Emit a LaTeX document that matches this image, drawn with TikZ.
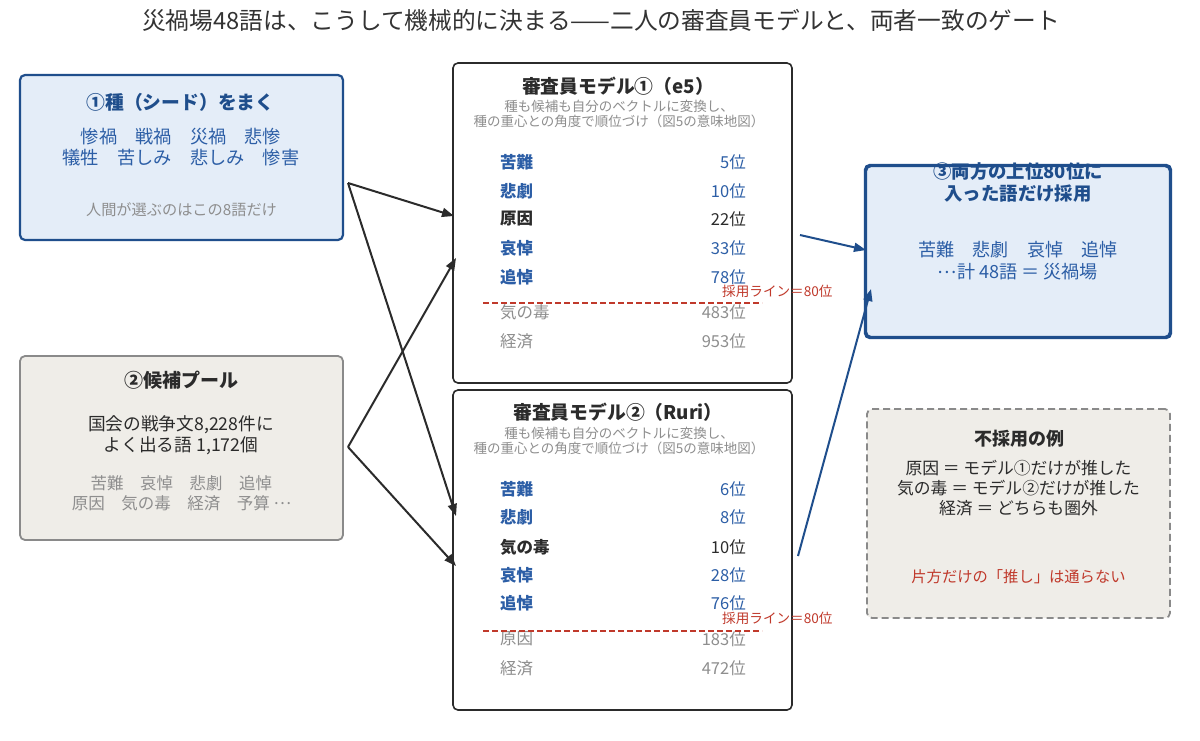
\documentclass[tikz,border=0pt]{standalone}
\usepackage{fontspec}
\setmainfont{Noto Sans CJK JP}
\usetikzlibrary{arrows.meta}
\definecolor{bblue}{HTML}{1F4E8C}
\definecolor{tblue}{HTML}{2C5EA6}
\definecolor{bfill}{HTML}{E4EDF8}
\definecolor{gfill}{HTML}{EFEDE8}
\definecolor{gborder}{HTML}{8A8A8A}
\definecolor{darkc}{HTML}{2B2B2B}
\definecolor{grayt}{HTML}{8E8E8E}
\definecolor{redc}{HTML}{C0392B}
\definecolor{titlec}{HTML}{333333}
\tikzset{
  seedbox/.style={draw=bblue, fill=bfill, line width=2.2pt, rounded corners=5pt, inner sep=0pt},
  poolbox/.style={draw=gborder, fill=gfill, line width=1.8pt, rounded corners=5pt, inner sep=0pt},
  modelbox/.style={draw=darkc, fill=white, line width=1.6pt, rounded corners=5pt, inner sep=0pt},
  rejbox/.style={draw=gborder, fill=gfill, line width=1.8pt, dash pattern=on 7pt off 4pt, rounded corners=5pt, inner sep=0pt},
  txt/.style={inner sep=0pt, align=center},
  arr/.style={draw=darkc, line width=2pt, -{Triangle[length=12pt,width=9pt]}},
  barr/.style={draw=bblue, line width=2pt, -{Triangle[length=12pt,width=9pt]}},
  cutline/.style={draw=redc, line width=1.2pt, dash pattern=on 6pt off 3pt},
}
\newcommand{\fs}[2]{\fontsize{#1}{#2}\selectfont}
\newcommand{\middots}{\raisebox{0.3em}{…}}
\begin{document}
\begin{tikzpicture}[x=1pt,y=-1pt]
\useasboundingbox (0,0) rectangle (1200,740);
\fill[white] (0,0) rectangle (1200,740);

% title
\node[txt, font=\fs{23.7}{27}, text=titlec] (title) at (601,20) {災禍場48語は、こうして機械的に決まる——二人の審査員モデルと、両者一致のゲート};

% boxes
\node[seedbox, minimum width=323pt, minimum height=165pt] (seed) at (181.5,157.5) {};
\node[poolbox, minimum width=323pt, minimum height=184pt] (pool) at (181.5,448) {};
\node[modelbox, minimum width=339pt, minimum height=320pt] (m1) at (622.5,223) {};
\node[modelbox, minimum width=339pt, minimum height=320pt] (m2) at (622.5,550) {};
\node[seedbox, minimum width=304pt, minimum height=171pt] (acc) at (1018,251.5) {};
\node[rejbox, minimum width=303pt, minimum height=209pt] (rej) at (1018.5,513.5) {};

% seed text
\node[txt, font=\fs{18.8}{22}\bfseries, text=bblue] (seedt) at (180.5,102) {①種（シード）をまく};
\node[txt, font=\fs{18.2}{21}, text=tblue] (seedw) at (181,147.5) {惨禍　戦禍　災禍　悲惨\\犠牲　苦しみ　悲しみ　惨害};
\node[txt, font=\fs{15.2}{18}, text=grayt] (seedn) at (181.5,210) {人間が選ぶのはこの8語だけ};

% pool text
\node[txt, font=\fs{19}{22}\bfseries, text=darkc] (poolt) at (181.5,380) {②候補プール};
\node[txt, font=\fs{17.7}{21}, text=darkc] (poold) at (181,435.5) {国会の戦争文8,228件に\\よく出る語 1,172個};
\node[txt, font=\fs{16.5}{20}, text=grayt] (poolw) at (181.5,493) {苦難　哀悼　悲劇　追悼\\原因　気の毒　経済　予算 \middots};

% model 1
\node[txt, font=\fs{18.8}{21}\bfseries, text=darkc] (m1t) at (618,86) {審査員モデル①（e5）};
\node[txt, font=\fs{13.5}{15}, text=grayt] (m1s) at (619,113.5) {種も候補も自分のベクトルに変換し、\\種の重心との角度で順位づけ（図5の意味地図）};
\foreach \i/\yy/\w/\n/\c/\f in {1/162/苦難/5位/tblue/\bfseries, 2/191/悲劇/10位/tblue/\bfseries, 3/219/原因/22位/darkc/\bfseries, 4/248/哀悼/33位/tblue/\bfseries, 5/277/追悼/78位/tblue/\bfseries, 6/312/気の毒/483位/grayt/, 7/341/経済/953位/grayt/}{
  \node[txt, anchor=west, font=\fs{16.5}{20}\f, text=\c] (m1w\i) at (500,\yy) {\w};
  \node[txt, anchor=east, font=\fs{16.5}{20}, text=\c] (m1n\i) at (746,\yy) {\n};
}
\coordinate (m1cl) at (483,303);
\coordinate (m1cr) at (762,303);
\draw[cutline] (m1cl) -- (m1cr);
\node[txt, anchor=west, font=\fs{13.6}{16}, text=redc] (m1lab) at (722,291) {採用ライン＝80位};

% model 2
\node[txt, font=\fs{18.8}{21}\bfseries, text=darkc] (m2t) at (618,412) {審査員モデル②（Ruri）};
\node[txt, font=\fs{13.5}{15}, text=grayt] (m2s) at (619,441) {種も候補も自分のベクトルに変換し、\\種の重心との角度で順位づけ（図5の意味地図）};
\foreach \i/\yy/\w/\n/\c/\f in {1/489/苦難/6位/tblue/\bfseries, 2/517/悲劇/8位/tblue/\bfseries, 3/547/気の毒/10位/darkc/\bfseries, 4/575/哀悼/28位/tblue/\bfseries, 5/603/追悼/76位/tblue/\bfseries, 6/639/原因/183位/grayt/, 7/668/経済/472位/grayt/}{
  \node[txt, anchor=west, font=\fs{16.5}{20}\f, text=\c] (m2w\i) at (500,\yy) {\w};
  \node[txt, anchor=east, font=\fs{16.5}{20}, text=\c] (m2n\i) at (746,\yy) {\n};
}
\coordinate (m2cl) at (483,631);
\coordinate (m2cr) at (762,631);
\draw[cutline] (m2cl) -- (m2cr);
\node[txt, anchor=west, font=\fs{13.6}{16}, text=redc] (m2lab) at (722,618) {採用ライン＝80位};

% accept text
\node[txt, font=\fs{18.4}{22}\bfseries, text=bblue] (acct) at (1018,182.5) {③両方の上位80位に\\入った語だけ採用};
\draw[bblue, line width=2.2pt, rounded corners=5pt] (acc.south west) rectangle (acc.north east);
\node[txt, font=\fs{18.1}{22}, text=tblue] (accw) at (1018,261) {苦難　悲劇　哀悼　追悼\\\middots 計 48語 ＝ 災禍場};

% reject text
\node[txt, font=\fs{18}{21}\bfseries, text=darkc] (rejt) at (1019,439) {不採用の例};
\node[txt, font=\fs{16.8}{20}, text=darkc] (rejd) at (1018.5,488) {原因 ＝ モデル①だけが推した\\気の毒 ＝ モデル②だけが推した\\経済 ＝ どちらも圏外};
\node[txt, font=\fs{15.3}{18}, text=redc] (rejn) at (1018.5,577) {片方だけの「推し」は通らない};

% connectors
\coordinate (seedout) at (348,183);
\coordinate (poolout) at (348,447);
\coordinate (m1inA) at (454,216);
\coordinate (m1inB) at (456,258);
\coordinate (m2inA) at (456,516);
\coordinate (m2inB) at (456,566);
\coordinate (m1out) at (800,235);
\coordinate (m2out) at (798,556);
\coordinate (accinA) at (866,250);
\coordinate (accinB) at (871,289);
\draw[arr] (seedout) -- (m1inA);
\draw[arr] (seedout) -- (m2inA);
\draw[arr] (poolout) -- (m1inB);
\draw[arr] (poolout) -- (m2inB);
\draw[barr] (m1out) -- (accinA);
\draw[barr] (m2out) -- (accinB);
\end{tikzpicture}
\end{document}
